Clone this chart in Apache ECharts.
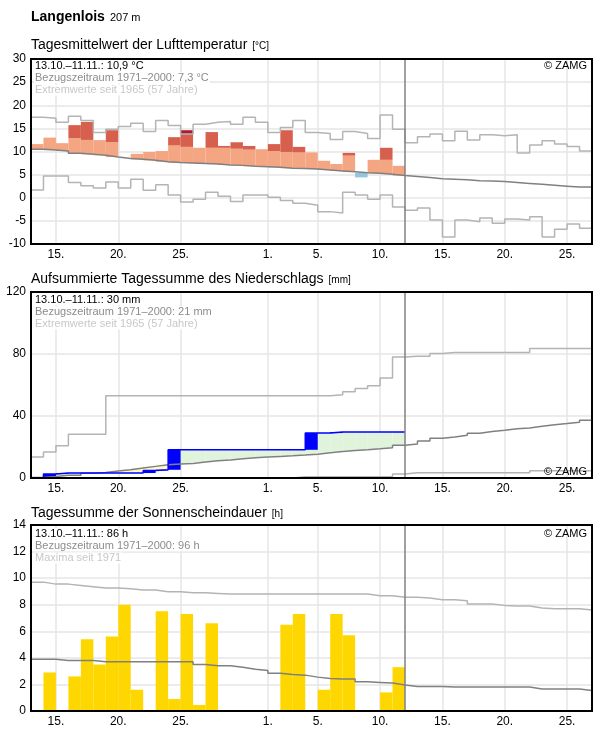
<!DOCTYPE html>
<html>
<head>
<meta charset="utf-8">
<script src="https://cdn.jsdelivr.net/npm/echarts@6/dist/echarts.min.js"></script>
<style>
  html, body { margin: 0; background: #fff; }
  #chart { width: 596px; height: 729px; }
</style>
</head>
<body>
<div id="chart"></div>
<script>
// day index 0 = 13.10., index 30 = 12.11. (today), axis runs to 27.11.
const dayCount = 45;
const todayIndex = 30;
const xTickDays = [2, 7, 12, 19, 23, 28, 33, 38, 43];
const xTickLabels = ['15.', '20.', '25.', '1.', '5.', '10.', '15.', '20.', '25.'];

// Lufttemperatur (°C)
const tempDaily = [11.6, 13.0, 11.8, 15.7, 16.4, 12.4, 14.6, 8.5, 9.5, 9.9, 10.1, 13.1, 14.6, 10.8, 14.2,
  11.2, 12.0, 11.2, 10.5, 11.6, 14.6, 11.0, 9.8, 8.0, 7.3, 9.7, 4.4, 8.2, 10.8, 6.9];
const tempUpper = [13.9, 13.6, 13.3, 12.9, 12.5, 12.3, 12.0, 11.8, 11.6, 11.4, 11.3, 11.3, 11.0, 10.9, 10.8,
  10.8, 10.6, 10.4, 10.5, 10.1, 9.9, 9.8, 9.8, 9.5, 9.3, 9.1, 8.9, 8.6, 8.2, 8.0];
const tempClim = [10.5, 10.3, 10.1, 9.6, 9.4, 9.2, 8.8, 8.5, 8.3, 8.1, 7.8, 7.6, 7.5, 7.4, 7.3,
  7.1, 7.0, 6.8, 6.7, 6.6, 6.4, 6.35, 6.2, 6.0, 5.8, 5.6, 5.4, 5.3, 5.1, 4.8,
  4.6, 4.4, 4.1, 4.0, 3.9, 3.7, 3.6, 3.5, 3.3, 3.1, 2.9, 2.7, 2.5, 2.3, 2.3];
const tempMax = [17.4, 17.2, 16.3, 17.6, 16.7, 14.1, 14.8, 15.4, 16.1, 14.3, 16.7, 15.6, 13.8, 15.9, 16.3,
  16.5, 15.9, 17.4, 16.3, 14.1, 15.2, 16.7, 14.1, 13.9, 12.6, 14.3, 13.9, 12.8, 17.9, 14.8,
  11.9, 13.2, 13.8, 12.3, 14.4, 12.5, 13.6, 13.4, 13.6, 9.7, 11.4, 12.3, 11.6, 11.1, 10.1];
const tempMin = [1.7, 4.7, 4.7, 3.3, 2.6, 2.1, 3.4, 2.1, 4.0, 1.6, 2.8, 0.6, -0.9, -0.3, 1.2,
  0.3, -0.8, 0.6, 0.6, 0.1, -0.6, -1.2, -1.6, -3.0, -3.3, 1.2, 0.6, -0.3, 0.6, -2.0,
  -2.7, -2.2, -4.8, -8.5, -4.8, -5.2, -4.4, -5.5, -4.6, -4.8, -4.1, -8.5, -6.8, -5.7, -6.6];

// Niederschlag, aufsummiert (mm)
const precipCum = [0, 2.6, 3.2, 3.2, 3.2, 3.2, 3.2, 3.2, 3.2, 4.9, 5.3, 18.2, 18.2, 18.2, 18.2,
  18.2, 18.2, 18.2, 18.2, 18.2, 18.2, 18.2, 29.0, 29.0, 29.7, 29.7, 29.7, 29.7, 29.7, 29.7];
const precipClim = [0.4, 1.0, 1.7, 1.7, 3.0, 3.6, 4.5, 5.3, 6.4, 7.5, 8.5, 9.0, 9.4, 10.3, 11.1,
  11.6, 12.4, 13.0, 13.5, 13.9, 14.3, 14.8, 15.4, 16.3, 17.1, 17.7, 18.2, 18.8, 19.5, 21.2,
  22.0, 23.8, 25.7, 26.5, 27.6, 28.9, 30.0, 30.8, 31.7, 32.3, 33.4, 34.3, 35.1, 36.0, 37.3];
const precipMax = [13.5, 16.7, 20.8, 28.3, 28.3, 28.3, 53.1, 53.1, 53.1, 53.1, 53.1, 53.1, 53.1, 53.1, 53.1,
  53.1, 53.1, 53.1, 53.1, 53.1, 53.1, 53.1, 53.1, 53.1, 53.7, 55.7, 57.8, 59.5, 64.5, 78.0,
  78.6, 78.6, 80.3, 81.0, 81.0, 81.0, 81.0, 81.0, 81.0, 81.0, 83.5, 83.5, 83.5, 83.5, 83.5];
const precipMin = [0, 0, 0, 0, 0, 0, 0, 0, 0, 0, 0, 0, 0, 0, 0,
  0, 0, 0, 0, 0, 0, 0.8, 0.8, 0.8, 0.8, 0.8, 0.8, 0.8, 0.8, 2.6,
  3.4, 3.4, 3.4, 3.4, 3.4, 3.4, 3.4, 3.4, 3.4, 3.4, 4.7, 4.7, 4.7, 4.7, 4.7];

// Sonnenscheindauer (h)
const sunDaily = [0, 2.9, 0, 2.6, 5.4, 3.5, 5.6, 8.0, 1.6, 0, 7.5, 0.9, 7.3, 0.45, 6.6,
  0, 0, 0, 0, 0, 6.5, 7.3, 0, 1.6, 7.3, 5.7, 0, 0, 1.4, 3.3];
const sunClim = [3.9, 3.9, 3.8, 3.8, 3.8, 3.7, 3.7, 3.7, 3.7, 3.7, 3.7, 3.7, 3.7, 3.5, 3.4,
  3.4, 3.3, 3.15, 3.05, 2.85, 2.75, 2.7, 2.55, 2.45, 2.4, 2.4, 2.2, 2.15, 2.1, 1.95,
  1.85, 1.85, 1.85, 1.8, 1.8, 1.8, 1.8, 1.8, 1.8, 1.8, 1.65, 1.65, 1.65, 1.65, 1.55];
const sunMax = [9.7, 9.55, 9.55, 9.45, 9.35, 9.25, 9.25, 9.2, 9.1, 9.1, 8.97, 8.97, 8.9, 8.9, 8.85,
  8.8, 8.8, 8.8, 8.8, 8.8, 8.8, 8.8, 8.8, 8.8, 8.8, 8.8, 8.8, 8.67, 8.67, 8.57,
  8.57, 8.5, 8.37, 8.37, 8.3, 8.05, 8.05, 7.95, 7.9, 7.9, 7.75, 7.7, 7.7, 7.7, 7.6];

const FONT = '"Liberation Sans", Arial, sans-serif';
const LIGHT = '#b4b4b4';
const DARK = '#808080';

// build rect pieces from the daily values
const tSalmon = [], tRed = [], tCrimson = [], tBlue = [];
tempDaily.forEach((v, i) => {
  const c = tempClim[i], u = tempUpper[i], m = tempMax[i];
  if (v >= c) {
    tSalmon.push([i, c, Math.min(v, u)]);
    if (v > u) tRed.push([i, u, Math.min(v, m)]);
    if (v > m) tCrimson.push([i, m, v]);
  } else {
    tBlue.push([i, v, c]);
  }
});

const pGreen = [], pYellow = [], pBlue = [];
precipCum.forEach((a, i) => {
  const c = precipClim[i];
  if (a > c) pGreen.push([i, c, a]);
  else if (a < c) pYellow.push([i, a, c]);
  const prev = i ? precipCum[i - 1] : 0;
  if (a > prev) pBlue.push([i, prev, a]);
});

const sunBars = [];
sunDaily.forEach((v, i) => { if (v > 0) sunBars.push([i, 0, v]); });

function stepData(vals) {
  const d = vals.map((v, i) => [i, v]);
  d.push([vals.length, vals[vals.length - 1]]);
  return d;
}

function rects(idx, data, color) {
  return {
    type: 'custom',
    xAxisIndex: idx,
    yAxisIndex: idx,
    silent: true,
    clip: true,
    encode: { x: 0, y: [1, 2] },
    data: data,
    renderItem(params, api) {
      const p0 = api.coord([api.value(0), api.value(1)]);
      const p1 = api.coord([api.value(0) + 1, api.value(2)]);
      return {
        type: 'rect',
        shape: { x: p0[0], y: Math.min(p0[1], p1[1]), width: p1[0] - p0[0], height: Math.abs(p1[1] - p0[1]) },
        style: { fill: color }
      };
    }
  };
}

function step(idx, vals, color, width, withToday) {
  const s = {
    type: 'line',
    xAxisIndex: idx,
    yAxisIndex: idx,
    step: 'end',
    symbol: 'none',
    silent: true,
    data: stepData(vals),
    lineStyle: { color: color, width: width || 1.5 }
  };
  if (withToday) {
    s.markLine = {
      silent: true,
      symbol: 'none',
      label: { show: false },
      lineStyle: { color: DARK, width: 1.5, type: 'solid' },
      data: [{ xAxis: todayIndex }]
    };
  }
  return s;
}

const grids = [
  { left: 31, width: 561, top: 59, height: 185 },
  { left: 31, width: 561, top: 292, height: 186 },
  { left: 31, width: 561, top: 525, height: 186 }
];

const xAxes = [0, 1, 2].map(i => ({
  type: 'value',
  gridIndex: i,
  min: 0,
  max: dayCount,
  axisLine: { show: false },
  axisTick: { show: false, customValues: xTickDays },
  axisLabel: {
    customValues: xTickDays,
    margin: 5,
    color: '#000',
    fontSize: 12,
    fontFamily: FONT,
    formatter: v => xTickLabels[xTickDays.indexOf(v)] || ''
  },
  splitLine: { show: true, lineStyle: { color: '#e6e6e6', width: 1.5 } }
}));

const yRanges = [[-10, 30, 5], [0, 120, 40], [0, 14, 2]];
const yAxes = yRanges.map((r, i) => ({
  type: 'value',
  gridIndex: i,
  min: r[0],
  max: r[1],
  interval: r[2],
  axisLine: { show: false },
  axisTick: { show: false },
  axisLabel: { margin: 5, color: '#000', fontSize: 12, fontFamily: FONT },
  splitLine: { show: true, lineStyle: { color: '#e6e6e6', width: 1.5 } }
}));

function heading(top, main, unit) {
  return {
    left: 31, top: top, padding: 0,
    text: '{a|' + main + '} {b|' + unit + '}',
    textStyle: {
      fontWeight: 'normal',
      rich: {
        a: { fontSize: 14, fontWeight: 'normal', fontFamily: FONT, color: '#000' },
        b: { fontSize: 10, fontWeight: 'normal', fontFamily: FONT, color: '#000', padding: [3, 0, 0, 0] }
      }
    }
  };
}

function legendLines(top, lines) {
  const colors = ['#000', '#8c8c8c', '#c8c8c8'];
  return lines.map((t, k) => ({
    type: 'text',
    left: 34,
    top: top + k * 12.3,
    z: 50,
    style: { text: t, fill: colors[k], font: '11px ' + FONT, backgroundColor: '#fff', padding: [0, 1] }
  }));
}

function zamg(top) {
  return {
    type: 'text', right: 9, top: top, z: 50,
    style: { text: '© ZAMG', fill: '#000', font: '11px ' + FONT }
  };
}

// black frame round each plot area
const frames = grids.map(g => ({
  type: 'rect', z: 60, silent: true,
  shape: { x: g.left, y: g.top, width: g.width, height: g.height },
  style: { fill: null, stroke: '#000', lineWidth: 2 }
}));

const chart = echarts.init(document.getElementById('chart'));
chart.setOption({
  animation: false,
  backgroundColor: '#fff',
  title: [
    {
      left: 31, top: 8, padding: 0,
      text: '{a|Langenlois} {b|207 m}',
      textStyle: {
        rich: {
          a: { fontSize: 14, fontWeight: 'bold', fontFamily: FONT, color: '#000' },
          b: { fontSize: 11, fontWeight: 'normal', fontFamily: FONT, color: '#000', padding: [2, 0, 0, 0] }
        }
      }
    },
    heading(36, 'Tagesmittelwert der Lufttemperatur', '[°C]'),
    heading(270, 'Aufsummierte Tagessumme des Niederschlags', '[mm]'),
    heading(504, 'Tagessumme der Sonnenscheindauer', '[h]')
  ],
  grid: grids,
  xAxis: xAxes,
  yAxis: yAxes,
  graphic: [].concat(
    legendLines(60, ['13.10.–11.11.: 10,9 °C', 'Bezugszeitraum 1971–2000: 7,3 °C', 'Extremwerte seit 1965 (57 Jahre)']),
    legendLines(294, ['13.10.–11.11.: 30 mm', 'Bezugszeitraum 1971–2000: 21 mm', 'Extremwerte seit 1965 (57 Jahre)']),
    legendLines(528, ['13.10.–11.11.: 86 h', 'Bezugszeitraum 1971–2000: 96 h', 'Maxima seit 1971']),
    [zamg(60), zamg(466), zamg(528)],
    frames
  ),
  series: [
    // Temperatur
    rects(0, tSalmon, '#f4a582'),
    rects(0, tRed, '#d6604d'),
    rects(0, tCrimson, '#b2182b'),
    rects(0, tBlue, '#92c5de'),
    step(0, tempMax, LIGHT),
    step(0, tempMin, LIGHT),
    step(0, tempClim, DARK, 1.5, true),
    // Niederschlag
    rects(1, pGreen, '#e0f3db'),
    rects(1, pYellow, '#fff9c4'),
    step(1, precipMax, LIGHT),
    step(1, precipMin, LIGHT),
    step(1, precipClim, DARK, 1.5, true),
    rects(1, pBlue, '#0000ff'),
    step(1, precipCum, '#0000ff', 1.5),
    // Sonnenschein
    rects(2, sunBars, '#ffd700'),
    step(2, sunMax, LIGHT),
    step(2, sunClim, DARK, 1.5, true)
  ]
});
</script>
</body>
</html>
